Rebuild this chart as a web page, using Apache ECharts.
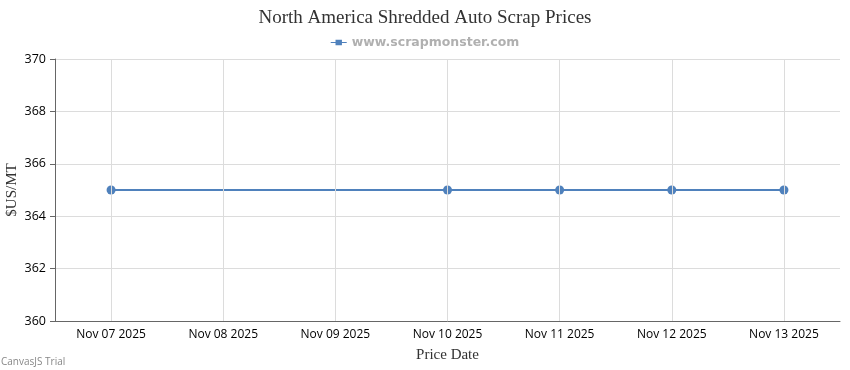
<!DOCTYPE html>
<html><head><meta charset="utf-8">
<script src="https://cdn.jsdelivr.net/npm/echarts@6/dist/echarts.min.js"></script>
<style>html,body{margin:0;padding:0;background:#fff}#c{width:850px;height:370px}</style>
</head><body><div id="c"></div>
<script>
const categories = ['Nov 07 2025','Nov 08 2025','Nov 09 2025','Nov 10 2025','Nov 11 2025','Nov 12 2025','Nov 13 2025'];
const prices = [365, null, null, 365, 365, 365, 365];
const yTicks = {min: 360, max: 370, interval: 2};
const seriesName = 'www.scrapmonster.com';

const chart = echarts.init(document.getElementById('c'), null, {renderer: 'canvas'});
chart.setOption({
  animation: false,
  title: {text: 'North America Shredded Auto Scrap Prices', left: 'center', top: 4,
    textStyle: {fontFamily: 'Liberation Serif', fontSize: 19, fontWeight: 'normal', color: '#333'}},
  legend: {top: 31, left: 'center', itemWidth: 16, itemHeight: 8, itemGap: 6,
    data: [{name: seriesName, icon: 'path://M0,3.3 L6,3.3 L6,0.5 L14,0.5 L14,3.3 L20,3.3 L20,4.7 L14,4.7 L14,7.5 L6,7.5 L6,4.7 L0,4.7 Z'}],
    textStyle: {fontFamily: 'Verdana, DejaVu Sans', fontSize: 12.5, fontWeight: 'bold', color: '#b0b0b0'}},
  grid: {left: 55, right: 10, top: 59, bottom: 49, containLabel: false, outerBoundsMode: 'none'},
  xAxis: {type: 'category', data: categories, boundaryGap: true,
    name: 'Price Date', nameLocation: 'middle', nameGap: 27, nameMoveOverlap: false,
    nameTextStyle: {fontFamily: 'Liberation Serif', fontSize: 15, color: '#333'},
    axisLine: {lineStyle: {color: '#666', width: 1}},
    axisTick: {alignWithLabel: true, length: 5, lineStyle: {color: '#666'}},
    axisLabel: {fontFamily: 'Open Sans', fontSize: 12, color: '#000', margin: 8},
    splitLine: {show: false}},
  yAxis: {type: 'value', min: yTicks.min, max: yTicks.max, interval: yTicks.interval,
    name: '$US/MT', nameLocation: 'middle', nameGap: 35, nameMoveOverlap: false,
    nameTextStyle: {fontFamily: 'Liberation Serif', fontSize: 15, color: '#333'},
    axisLine: {show: true, lineStyle: {color: '#666', width: 1}},
    axisTick: {show: true, length: 5, lineStyle: {color: '#666'}},
    axisLabel: {fontFamily: 'Open Sans', fontSize: 12.5, color: '#000', margin: 9},
    splitLine: {lineStyle: {color: '#dcdcdc', width: 1}}},
  series: [
    {type: 'line', name: '_grid', data: categories.map(() => null), z: 1, silent: true,
      markLine: {silent: true, symbol: 'none', label: {show: false},
        lineStyle: {color: '#dcdcdc', width: 1, type: 'solid'},
        data: categories.map(c => ({xAxis: c}))}},
    {type: 'line', name: seriesName, data: prices, connectNulls: true, z: 3,
      symbol: 'circle', symbolSize: 9, showSymbol: true,
      itemStyle: {color: '#4F81BC'}, lineStyle: {color: '#4F81BC', width: 2}}
  ],
  graphic: [{type: 'text', left: 1, top: 357,
    style: {text: 'CanvasJS Trial', fontFamily: 'Open Sans', fontSize: 10, fill: '#888'}}]
});
</script></body></html>
